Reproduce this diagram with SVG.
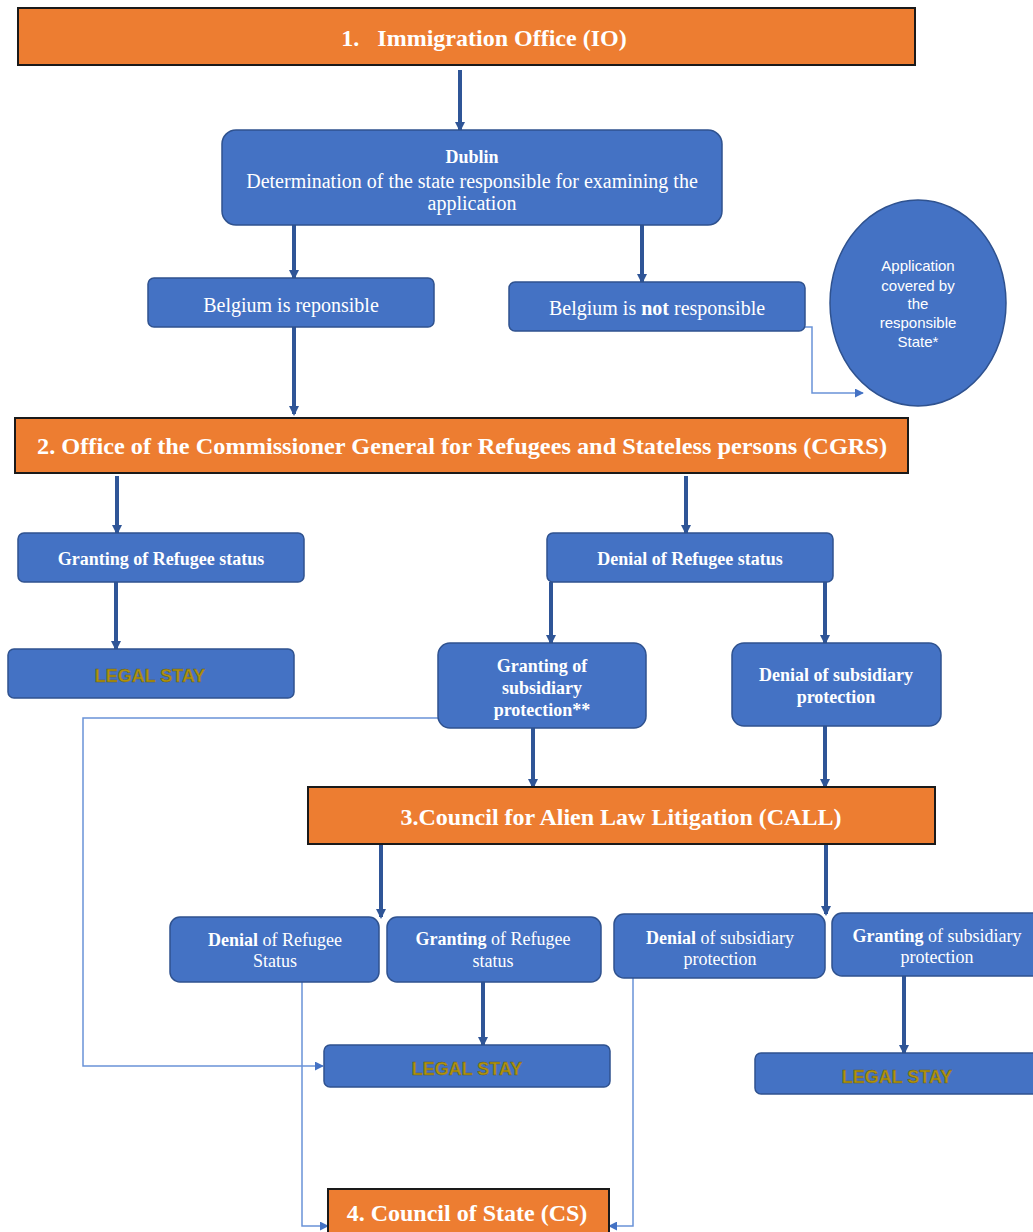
<svg xmlns="http://www.w3.org/2000/svg" width="1033" height="1232" viewBox="0 0 1033 1232">
<style>
.org{fill:#ED7D31;stroke:#1a1a1a;stroke-width:2}
.blu{fill:#4472C4;stroke:#2F528F;stroke-width:1.5}
.ttl{font-family:"Liberation Serif",serif;font-weight:bold;font-size:24px;fill:#fff;text-anchor:middle}
.bt{font-family:"Liberation Serif",serif;font-size:18px;fill:#fff;text-anchor:middle}
.r{font-size:20px}
.b{font-weight:bold}
.ls{font-family:"Liberation Sans",sans-serif;font-weight:bold;font-size:18px;fill:#B0920E;stroke:#6b5a12;stroke-width:0.4;text-anchor:middle}
.el{font-family:"Liberation Sans",sans-serif;font-size:15px;fill:#fff;text-anchor:middle}
.thick{stroke:#2F5597;stroke-width:4;fill:none;marker-end:url(#ah)}
.thin{stroke:#6A93D8;stroke-width:1.5;fill:none;marker-end:url(#at)}
</style>
<defs>
<marker id="ah" viewBox="0 0 10 10" refX="8" refY="5" markerWidth="2.5" markerHeight="2.5" orient="auto"><path d="M0,0L10,5L0,10z" fill="#2F5597"/></marker>
<marker id="at" viewBox="0 0 10 10" refX="9" refY="5" markerWidth="9" markerHeight="9" orient="auto" markerUnits="userSpaceOnUse"><path d="M0,0L10,5L0,10z" fill="#4472C4"/></marker>
</defs>
<rect width="1033" height="1232" fill="#fff"/>
<g id="connectors">
<path class="thick" d="M460,70V130"/>
<path class="thick" d="M294,225V278"/>
<path class="thick" d="M642,225V282"/>
<path class="thick" d="M294,327V414"/>
<path class="thin" d="M805,327H812V393H863"/>
<path class="thick" d="M117,476V533"/>
<path class="thick" d="M686,476V533"/>
<path class="thick" d="M116,582V649"/>
<path class="thick" d="M551,582V643"/>
<path class="thick" d="M825,582V643"/>
<path class="thick" d="M533,728V787"/>
<path class="thick" d="M825,726V787"/>
<path class="thick" d="M381,844V917"/>
<path class="thick" d="M826,844V914"/>
<path class="thick" d="M483,982V1045"/>
<path class="thick" d="M904,976V1053"/>
<path class="thin" d="M438,718H83V1066H323"/>
<path class="thin" d="M302,982V1226H328"/>
<path class="thin" d="M633,978V1226H609"/>
</g>
<g id="n1"><rect class="org" x="18" y="8" width="897" height="57"/><text class="ttl" x="484" y="46" xml:space="preserve">1.   Immigration Office (IO)</text></g>
<g id="n-dublin"><rect class="blu" x="222" y="130" width="500" height="95" rx="14"/>
<text class="bt b" x="472" y="163" font-size="20">Dublin</text>
<text class="bt r" x="472" y="188">Determination of the state responsible for examining the</text>
<text class="bt r" x="472" y="210">application</text></g>
<g id="n-bel-resp"><rect class="blu" x="148" y="278" width="286" height="49" rx="6"/><text class="bt r" x="291" y="312">Belgium is reponsible</text></g>
<g id="n-bel-not"><rect class="blu" x="509" y="282" width="296" height="49" rx="6"/><text class="bt r" x="657" y="315">Belgium is <tspan class="b">not</tspan> responsible</text></g>
<g id="n-ellipse"><ellipse cx="918" cy="303" rx="88" ry="103" fill="#4472C4" stroke="#2F528F" stroke-width="1.5"/>
<text class="el" x="918" y="271">Application</text><text class="el" x="918" y="291">covered by</text><text class="el" x="918" y="309">the</text><text class="el" x="918" y="328">responsible</text><text class="el" x="918" y="347">State*</text></g>
<g id="n2"><rect class="org" x="15" y="418" width="893" height="55"/><text class="ttl" x="462" y="454" textLength="850" lengthAdjust="spacingAndGlyphs">2. Office of the Commissioner General for Refugees and Stateless persons (CGRS)</text></g>
<g id="n-grant-ref"><rect class="blu" x="18" y="533" width="286" height="49" rx="6"/><text class="bt b" x="161" y="565">Granting of Refugee status</text></g>
<g id="n-deny-ref"><rect class="blu" x="547" y="533" width="286" height="49" rx="6"/><text class="bt b" x="690" y="565">Denial of Refugee status</text></g>
<g id="n-legal1"><rect class="blu" x="8" y="649" width="286" height="49" rx="6"/><text class="ls" x="150" y="682">LEGAL STAY</text></g>
<g id="n-grant-sub"><rect class="blu" x="438" y="643" width="208" height="85" rx="12"/>
<text class="bt b" x="542" y="672">Granting of</text><text class="bt b" x="542" y="694">subsidiary</text><text class="bt b" x="542" y="716">protection**</text></g>
<g id="n-deny-sub"><rect class="blu" x="732" y="643" width="209" height="83" rx="12"/>
<text class="bt b" x="836" y="681">Denial of subsidiary</text><text class="bt b" x="836" y="703">protection</text></g>
<g id="n3"><rect class="org" x="308" y="787" width="627" height="57"/><text class="ttl" x="621" y="825">3.Council for Alien Law Litigation (CALL)</text></g>
<g id="n-c-deny-ref"><rect class="blu" x="170" y="917" width="209" height="65" rx="10"/>
<text class="bt" x="275" y="946"><tspan class="b">Denial</tspan> of Refugee</text><text class="bt" x="275" y="967">Status</text></g>
<g id="n-c-grant-ref"><rect class="blu" x="387" y="917" width="214" height="65" rx="10"/>
<text class="bt" x="493" y="945"><tspan class="b">Granting</tspan> of Refugee</text><text class="bt" x="493" y="967">status</text></g>
<g id="n-c-deny-sub"><rect class="blu" x="614" y="914" width="211" height="64" rx="10"/>
<text class="bt" x="720" y="944"><tspan class="b">Denial</tspan> of subsidiary</text><text class="bt" x="720" y="965">protection</text></g>
<g id="n-c-grant-sub"><rect class="blu" x="832" y="913" width="210" height="63" rx="10"/>
<text class="bt" x="937" y="942"><tspan class="b">Granting</tspan> of subsidiary</text><text class="bt" x="937" y="963">protection</text></g>
<g id="n-legal2"><rect class="blu" x="324" y="1045" width="286" height="42" rx="6"/><text class="ls" x="467" y="1075">LEGAL STAY</text></g>
<g id="n-legal3"><rect class="blu" x="755" y="1053" width="290" height="41" rx="6"/><text class="ls" x="897" y="1083">LEGAL STAY</text></g>
<g id="n4"><rect class="org" x="328" y="1189" width="281" height="50"/><text class="ttl" x="467" y="1221">4. Council of State (CS)</text></g>
</svg>
